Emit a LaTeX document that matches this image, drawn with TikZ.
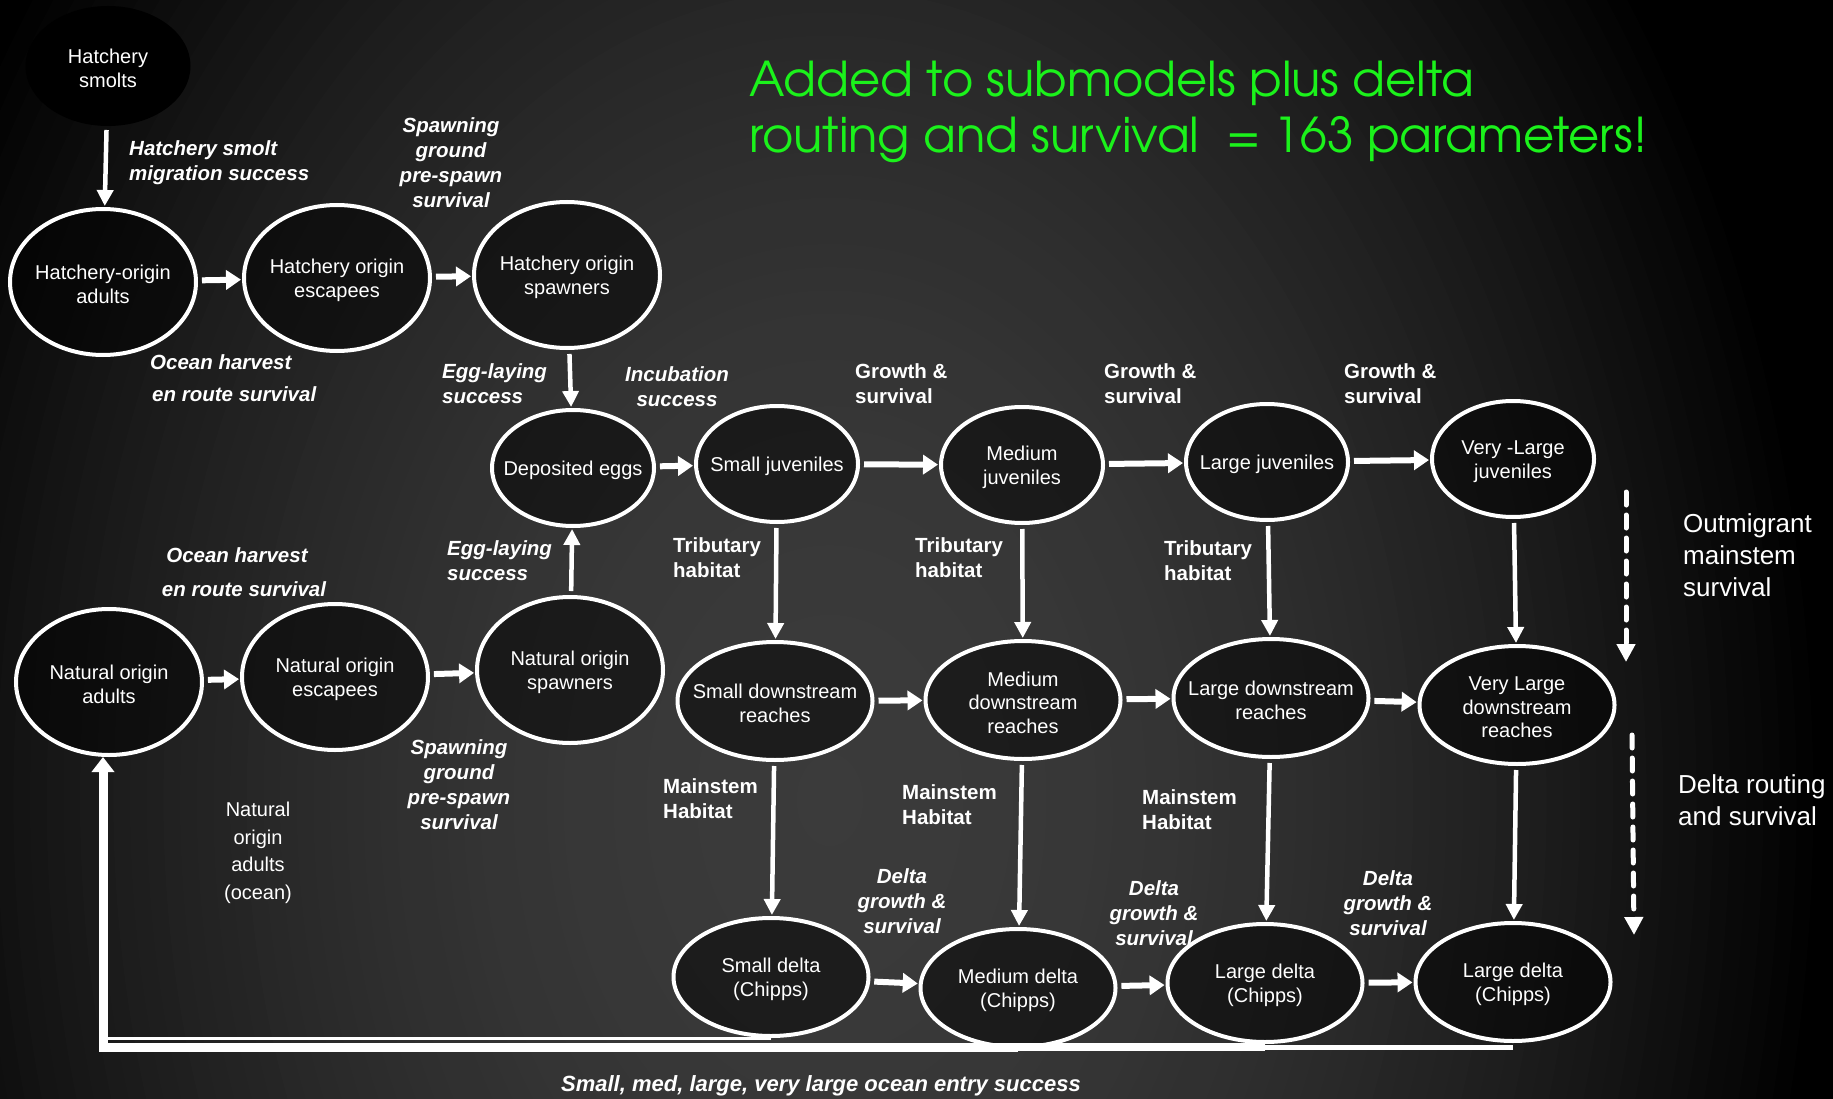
\documentclass[tikz,border=0pt]{standalone}
\usepackage{fontspec}
\setmainfont{Liberation Sans}
\newfontfamily\titlefont{TeX Gyre Adventor}
\usetikzlibrary{shapes.geometric,arrows.meta}
\definecolor{titlegreen}{HTML}{1BF21B}
\newcommand\nodefs{\fontsize{20pt}{23.5pt}\selectfont}
\newcommand\labfs{\fontsize{20.5pt}{25pt}\selectfont\bfseries\itshape}
\newcommand\blabfs{\fontsize{20.5pt}{25pt}\selectfont\bfseries}
\newcommand\sidefs{\fontsize{26pt}{32pt}\selectfont}
\newcommand\oceanfs{\fontsize{20pt}{27.6pt}\selectfont}
\newcommand\titlefs{\titlefont\fontsize{48pt}{56pt}\selectfont}
\tikzset{
  state/.style={ellipse, draw=white, line width=4pt, fill=black, fill opacity=0.5, inner sep=0pt},
  smolt/.style={draw=black, fill opacity=1, minimum width=161pt, minimum height=116pt},
  big/.style={minimum width=186pt, minimum height=146pt},
  mid/.style={minimum width=162pt, minimum height=116pt},
  wide/.style={minimum width=195pt, minimum height=118pt},
  stxt/.style={text=white, font=\nodefs, align=center, inner sep=0pt, yshift=-2.5pt},
  lab/.style={text=white, font=\labfs, inner sep=0pt},
  blab/.style={text=white, font=\blabfs, inner sep=0pt},
  side/.style={text=white, font=\sidefs, inner sep=0pt, align=left},
  ttl/.style={text=titlegreen, font=\titlefs, inner sep=0pt},
  harrow/.style={draw=white, line width=6pt, -{Triangle[length=15pt,width=19pt]}, shorten <=4pt, shorten >=1pt},
  varrow/.style={draw=white, line width=4.5pt, -{Triangle[length=16pt,width=16pt]}, shorten <=4pt, shorten >=1pt},
  ret/.style={draw=white},
  dasharrow/.style={draw=white, line width=5pt, line cap=round, dash pattern=on 13pt off 10pt, -{Triangle[length=18pt,width=18pt]}}
}
\begin{document}
\begin{tikzpicture}[x=1pt,y=-1pt]
\path[use as bounding box, fill=black] (0,0) rectangle (1833,1099);
\begin{scope}
\clip (0,0) rectangle (1833,1099);
\foreach \k in {0,...,59}{
  \pgfmathsetmacro\brr{1-\k/60}
  \pgfmathsetmacro\bgv{0.23*(1-\brr*\brr)}
  \definecolor{bgtmp}{gray}{\bgv}
  \fill[bgtmp] (830,800) ellipse [x radius=\brr*1000pt, y radius=\brr*1390pt];
}
\end{scope}

% title
\node[ttl, anchor=base west] (t1) at (749,97) {Added to submodels plus delta};
\node[ttl, anchor=base west] (t2) at (749,153) {routing and survival \ = 163 parameters!};

% nodes
\node[state, smolt] (hs) at (108,66) {};
\node[stxt] (hs-t) at (hs) {Hatchery\\smolts};
\node[state, big] (ha) at (103,282) {};
\node[stxt] (ha-t) at (ha) {Hatchery-origin\\adults};
\node[state, big] (he) at (337,278) {};
\node[stxt] (he-t) at (he) {Hatchery origin\\escapees};
\node[state, big] (hsp) at (567,275) {};
\node[stxt] (hsp-t) at (hsp) {Hatchery origin\\spawners};
\node[state, mid] (eggs) at (573,468) {};
\node[stxt] (eggs-t) at (eggs) {Deposited eggs};
\node[state, mid] (sj) at (777,464) {};
\node[stxt] (sj-t) at (sj) {Small juveniles};
\node[state, mid] (mj) at (1022,465) {};
\node[stxt] (mj-t) at (mj) {Medium\\juveniles};
\node[state, mid] (lj) at (1267,462) {};
\node[stxt] (lj-t) at (lj) {Large juveniles};
\node[state, mid] (vj) at (1513,459) {};
\node[stxt] (vj-t) at (vj) {Very -Large\\juveniles};
\node[state, big] (na) at (109,682) {};
\node[stxt] (na-t) at (na) {Natural origin\\adults};
\node[state, big] (ne) at (335,677) {};
\node[stxt] (ne-t) at (ne) {Natural origin\\escapees};
\node[state, big] (ns) at (570,670) {};
\node[stxt] (ns-t) at (ns) {Natural origin\\spawners};
\node[state, wide] (sd) at (775,701) {};
\node[stxt] (sd-t) at (sd) {Small downstream\\reaches};
\node[state, wide] (md) at (1023,700) {};
\node[stxt] (md-t) at (md) {Medium\\downstream\\reaches};
\node[state, wide] (ld) at (1271,698) {};
\node[stxt] (ld-t) at (ld) {Large downstream\\reaches};
\node[state, wide] (vd) at (1517,705) {};
\node[stxt] (vd-t) at (vd) {Very Large\\downstream\\reaches};
\node[state, wide] (d1) at (771,977) {};
\node[stxt] (d1-t) at (d1) {Small delta\\(Chipps)};
\node[state, wide] (d2) at (1018,988) {};
\node[stxt] (d2-t) at (d2) {Medium delta\\(Chipps)};
\node[state, wide] (d3) at (1265,983) {};
\node[stxt] (d3-t) at (d3) {Large delta\\(Chipps)};
\node[state, wide] (d4) at (1513,982) {};
\node[stxt] (d4-t) at (d4) {Large delta\\(Chipps)};

% arrows
\draw[varrow] (hs) -- (ha);
\draw[harrow] (ha) -- (he);
\draw[harrow] (he) -- (hsp);
\draw[varrow] (hsp) -- (eggs);
\draw[varrow] (ns) -- (eggs);
\draw[harrow] (na) -- (ne);
\draw[harrow] (ne) -- (ns);
\draw[harrow] (eggs) -- (sj);
\draw[harrow] (sj) -- (mj);
\draw[harrow] (mj) -- (lj);
\draw[harrow] (lj) -- (vj);
\draw[varrow] (sj) -- (sd);
\draw[varrow] (mj) -- (md);
\draw[varrow] (lj) -- (ld);
\draw[varrow] (vj) -- (vd);
\draw[harrow] (sd) -- (md);
\draw[harrow] (md) -- (ld);
\draw[harrow] (ld) -- (vd);
\draw[varrow] (sd) -- (d1);
\draw[varrow] (md) -- (d2);
\draw[varrow] (ld) -- (d3);
\draw[varrow] (vd) -- (d4);
\draw[harrow] (d1) -- (d2);
\draw[harrow] (d2) -- (d3);
\draw[harrow] (d3) -- (d4);

% return line to natural origin adults
\coordinate (rc) at (103,1047);
\draw[ret, line width=5pt] (d4.south |- rc) -- (d3.south |- rc);
\draw[ret, line width=8pt] (d3.south |- rc) -- (d2.south |- rc);
\draw[ret, line width=3pt] (d1.south) -- (d1.south -| rc);
\draw[ret, line width=9pt, -{Triangle[length=15pt,width=22pt]}] (d2.south |- rc) -- (rc) -- (na.south -| rc);

% dashed side arrows
\coordinate (da1) at (1626,492);
\coordinate (da1e) at (1626,662);
\coordinate (da2) at (1632,735);
\coordinate (da2e) at (1634,935);
\draw[dasharrow] (da1) -- (da1e);
\draw[dasharrow] (da2) -- (da2e);

% labels
\node[lab, align=left, anchor=west] (l1) at (129,163) {Hatchery smolt\\migration success};
\node[lab, align=center] (l2) at (451,163) {Spawning\\ground\\pre-spawn\\survival};
\node[lab, anchor=west] (l3a) at (150,362) {Ocean harvest};
\node[lab, anchor=west] (l3b) at (152,394) {en route survival};
\node[lab, align=left, anchor=west] (l4) at (442,384) {Egg-laying\\success};
\node[lab, align=center] (l5) at (677,387) {Incubation\\success};
\node[blab, align=left, anchor=west] (l6) at (855,384) {Growth \&\\survival};
\node[blab, align=left, anchor=west] (l7) at (1104,384) {Growth \&\\survival};
\node[blab, align=left, anchor=west] (l8) at (1344,384) {Growth \&\\survival};
\node[lab] (l9a) at (237,555) {Ocean harvest};
\node[lab] (l9b) at (244,589) {en route survival};
\node[lab, align=left, anchor=west] (l10) at (447,561) {Egg-laying\\success};
\node[blab, align=left, anchor=west] (l11) at (673,558) {Tributary\\habitat};
\node[blab, align=left, anchor=west] (l12) at (915,558) {Tributary\\habitat};
\node[blab, align=left, anchor=west] (l13) at (1164,561) {Tributary\\habitat};
\node[lab, align=center] (l14) at (459,785) {Spawning\\ground\\pre-spawn\\survival};
\node[text=white, font=\oceanfs, align=center, inner sep=0pt] (l15) at (258,853) {Natural\\origin\\adults\\(ocean)};
\node[blab, align=left, anchor=west] (l16) at (663,799) {Mainstem\\Habitat};
\node[blab, align=left, anchor=west] (l17) at (902,805) {Mainstem\\Habitat};
\node[blab, align=left, anchor=west] (l18) at (1142,810) {Mainstem\\Habitat};
\node[lab, align=center] (l19) at (902,901) {Delta\\growth \&\\survival};
\node[lab, align=center] (l20) at (1154,913) {Delta\\growth \&\\survival};
\node[lab, align=center] (l21) at (1388,903) {Delta\\growth \&\\survival};
\node[lab, font=\fontsize{22pt}{26pt}\selectfont\bfseries\itshape] (l22) at (821,1086) {Small, med, large, very large ocean entry success};
\node[side, anchor=west] (l23) at (1683,555) {Outmigrant\\mainstem\\survival};
\node[side, anchor=west] (l24) at (1678,800) {Delta routing\\and survival};
\end{tikzpicture}
\end{document}
